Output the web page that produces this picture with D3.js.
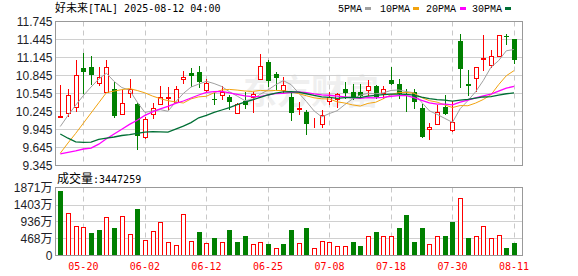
<!DOCTYPE html>
<html><head><meta charset="utf-8">
<script src="https://cdn.jsdelivr.net/npm/d3@7"></script>
<style>body{margin:0;background:#fff}svg{display:block}</style>
</head><body><svg id="c" width="578" height="276"></svg>
<script>
const titleName = "好未来";
const titleRest = "[TAL] 2025-08-12 04:00";
const volLabelName = "成交量";
const volLabelValue = ":3447259";
const dates = ["05-15","05-16","05-19","05-20","05-21","05-22","05-23","05-27","05-28","05-29",
"05-30","06-02","06-03","06-04","06-05","06-06","06-09","06-10","06-11","06-12",
"06-13","06-16","06-17","06-18","06-20","06-23","06-24","06-25","06-26","06-27",
"06-30","07-01","07-02","07-03","07-07","07-08","07-09","07-10","07-11","07-14",
"07-15","07-16","07-17","07-18","07-21","07-22","07-23","07-24","07-25","07-28",
"07-29","07-30","07-31","08-01","08-04","08-05","08-06","08-07","08-08","08-11"];
const openP = [10.155,10.217,10.328,10.973,10.995,10.728,10.573,10.623,10.206,10.556,
10.373,9.817,10.206,10.373,10.475,10.40,10.79,10.89,10.90,10.606,
10.445,10.528,10.495,10.223,10.412,10.484,10.79,11.067,10.862,10.595,
10.495,10.295,10.234,10.015,10.04,10.417,10.445,10.612,10.567,10.567,
10.595,10.678,10.55,10.778,10.695,10.54,10.578,10.306,9.956,10.04,
10.328,9.94,11.412,10.695,10.806,11.115,11.012,11.178,11.50,11.456];
const highP = [10.68,10.623,11.106,11.217,11.178,10.984,11.106,10.745,10.606,10.79,
10.384,10.15,10.384,10.662,10.65,10.662,10.912,10.973,11.01,10.79,
10.55,10.662,10.528,10.38,10.567,10.578,11.195,11.106,10.90,10.828,
10.578,10.40,10.262,10.14,10.262,10.567,10.55,10.745,10.695,10.706,
10.773,10.68,10.678,10.995,10.79,10.623,10.623,10.373,10.056,10.345,
10.512,10.417,11.54,10.939,10.984,11.528,11.262,11.512,11.54,11.456];
const lowP = [10.15,10.178,10.25,10.55,10.706,10.689,10.573,10.15,10.206,10.495,
9.623,9.806,10.14,10.373,10.29,10.40,10.717,10.667,10.65,10.567,
10.373,10.445,10.29,10.22,10.306,10.234,10.79,10.678,10.623,10.578,
10.106,10.195,9.873,9.995,9.984,10.373,10.317,10.473,10.456,10.473,
10.512,10.473,10.473,10.695,10.473,10.25,10.306,9.817,9.79,10.04,
10.195,9.928,10.65,10.528,10.584,10.939,10.995,11.178,11.362,11.05];
const closeP = [10.165,10.512,10.845,10.90,10.845,10.828,10.995,10.162,10.39,10.628,
9.84,10.123,10.306,10.484,10.49,10.623,10.828,10.834,10.734,10.723,
10.435,10.578,10.40,10.373,10.345,10.539,11.01,10.75,10.806,10.689,
10.217,10.305,10.04,10.025,10.19,10.495,10.539,10.55,10.495,10.50,
10.662,10.495,10.623,10.70,10.539,10.53,10.40,9.817,9.995,10.245,
10.195,10.067,10.956,10.662,10.984,11.13,11.178,11.512,11.48,11.095];
const ma5 = [9.995,10.18,10.35,10.51,10.653,10.786,10.883,10.746,10.644,10.601,
10.403,10.229,10.257,10.276,10.249,10.405,10.546,10.652,10.702,10.748,
10.711,10.661,10.574,10.502,10.426,10.447,10.533,10.603,10.69,10.759,
10.694,10.553,10.411,10.255,10.155,10.211,10.258,10.36,10.454,10.516,
10.549,10.54,10.555,10.596,10.604,10.577,10.558,10.397,10.256,10.197,
10.13,10.064,10.292,10.425,10.573,10.76,10.982,11.093,11.257,11.279];
const ma10 = [9.55,9.72,9.88,10.05,10.22,10.39,10.56,10.585,10.61,10.627,
10.595,10.556,10.502,10.46,10.425,10.404,10.387,10.455,10.489,10.499,
10.558,10.604,10.613,10.602,10.587,10.579,10.597,10.589,10.596,10.593,
10.571,10.543,10.507,10.473,10.457,10.453,10.406,10.386,10.355,10.336,
10.38,10.399,10.457,10.525,10.56,10.563,10.549,10.476,10.426,10.401,
10.354,10.311,10.344,10.341,10.385,10.445,10.523,10.692,10.841,10.926];
const ma20 = [9.54,9.565,9.59,9.62,9.635,9.70,9.79,9.87,9.95,10.03,
10.10,10.18,10.24,10.29,10.33,10.38,10.42,10.47,10.52,10.563,
10.576,10.58,10.557,10.531,10.506,10.492,10.492,10.522,10.542,10.546,
10.564,10.573,10.56,10.537,10.522,10.516,10.501,10.487,10.475,10.464,
10.475,10.471,10.482,10.499,10.508,10.508,10.478,10.431,10.39,10.368,
10.367,10.355,10.401,10.433,10.472,10.504,10.536,10.584,10.634,10.663];
const ma30 = [9.87,9.80,9.74,9.73,9.735,9.78,9.80,9.82,9.845,9.86,
9.88,9.90,9.91,9.905,9.90,9.95,10.00,10.06,10.14,10.18,
10.23,10.27,10.31,10.36,10.40,10.44,10.48,10.52,10.55,10.573,
10.574,10.568,10.541,10.512,10.49,10.479,10.463,10.476,10.48,10.476,
10.503,10.515,10.526,10.533,10.535,10.532,10.517,10.483,10.459,10.443,
10.435,10.418,10.436,10.446,10.467,10.487,10.493,10.518,10.541,10.554];
const volume = [1761,1174,816,789,624,715,1064,770,1091,596,
1293,440,679,926,376,293,1146,403,660,348,
468,385,715,358,523,321,376,330,211,330,
688,348,743,211,403,385,248,248,385,275,
523,660,523,550,770,1128,358,743,321,541,
550,908,1587,495,523,816,495,569,193,345];
const volUp = [0,1,1,1,0,0,1,0,1,1, 0,1,1,1,1,1,1,1,0,1,
0,1,0,0,0,1,1,0,1,0, 0,1,0,1,1,1,1,1,0,0,
1,0,1,1,0,0,0,0,1,1, 0,0,1,0,1,1,1,1,0,0];
const priceTicks = [9.345,9.645,9.945,10.245,10.545,10.845,11.145,11.445,11.745];
const volTicks = [0,468,936,1403,1871];
const dateLabels = ["05-20","06-02","06-12","06-25","07-08","07-18","07-30","08-11"];
const maNames = ["5PMA","10PMA","20PMA","30PMA"];
const maColors = ["#a0a0a0","#f2a30f","#ff00ff","#006f35"];

const UP = "#ff0000", DOWN = "#008000";
const L = 55.5, R = 522.5, PT = 21.5, PB = 165.5, VT = 187.5, VB = 255.5;
const svg = d3.select("#c");
const x = d3.scaleBand().domain(dates).range([56.45, 517.85]);
const bw = x.bandwidth();
const cxr = d => Math.round(x(d) + bw / 2);
const y = d3.scaleLinear().domain([9.345, 11.745]).range([PB, PT]);
const yv = d3.scaleLinear().domain([0, 1871]).range([VB, VT]);

// watermark
svg.append("text").attr("x", 243).attr("y", 104)
  .style("font-family", "'Noto Sans CJK SC'").style("font-size", "34px").style("font-weight", "bold")
  .attr("fill", "#000").attr("opacity", 0.06).text("东方财富");

// horizontal grid
svg.append("g").selectAll("line").data(priceTicks.slice(1, -1)).join("line")
  .attr("x1", L).attr("x2", R).attr("y1", d => y(d)).attr("y2", d => y(d))
  .attr("stroke", "#d0d0d0").attr("stroke-width", 1);
svg.append("g").selectAll("line").data(volTicks.slice(1, -1)).join("line")
  .attr("x1", L).attr("x2", R).attr("y1", d => Math.round(yv(d)) + 0.5).attr("y2", d => Math.round(yv(d)) + 0.5)
  .attr("stroke", "#d0d0d0").attr("stroke-width", 1);
// vertical dashed grid
[[PT, PB], [VT, VB]].forEach(([a, b]) => {
  svg.append("g").selectAll("line").data(dateLabels).join("line")
    .attr("x1", d => cxr(d) + 0.5).attr("x2", d => cxr(d) + 0.5)
    .attr("y1", a).attr("y2", b)
    .attr("stroke", "#c8c8c8").attr("stroke-dasharray", "5,4");
});

// candles
const bars = dates.map((d, i) => ({ d, o: openP[i], h: highP[i], l: lowP[i], c: closeP[i], v: volume[i], vu: volUp[i] }));
const cg = svg.append("g");
const cand = cg.selectAll("g").data(bars).join("g");
cand.append("line")
  .attr("x1", d => cxr(d.d) + 0.5).attr("x2", d => cxr(d.d) + 0.5)
  .attr("y1", d => Math.round(y(d.h))).attr("y2", d => Math.round(y(d.l)) + 1)
  .attr("stroke", d => d.c >= d.o ? UP : DOWN).attr("stroke-width", 1);
cand.each(function (d) {
  const g = d3.select(this);
  const t = Math.round(y(Math.max(d.o, d.c))), b = Math.round(y(Math.min(d.o, d.c)));
  const cx = cxr(d.d);
  if (d.c >= d.o) {
    g.append("rect").attr("x", cx - 1.5).attr("y", t + 0.5).attr("width", 4).attr("height", Math.max(b - t, 0))
      .attr("fill", "#fff").attr("stroke", UP).attr("stroke-width", 1);
  } else {
    g.append("rect").attr("x", cx - 2).attr("y", t).attr("width", 5).attr("height", Math.max(b - t, 1))
      .attr("fill", DOWN);
  }
});

// MA lines
[ma5, ma10, ma20, ma30].forEach((arr, k) => {
  const line = d3.line().x((v, i) => x(dates[i]) + bw / 2).y(v => y(v));
  svg.append("path").datum(arr).attr("d", line).attr("fill", "none")
    .attr("stroke", maColors[k]).attr("stroke-width", k >= 2 ? 1.3 : 1);
});

// volume bars
const vg = svg.append("g");
vg.selectAll("rect").data(bars).join("rect")
  .each(function (d) {
    const r = d3.select(this), cx = cxr(d.d), t = Math.round(yv(d.v));
    if (d.vu) {
      r.attr("x", cx - 1.5).attr("y", t + 0.5).attr("width", 4).attr("height", Math.max(255 - t, 0))
        .attr("fill", "#fff").attr("stroke", UP).attr("stroke-width", 1);
    } else {
      r.attr("x", cx - 2).attr("y", t).attr("width", 5).attr("height", Math.max(256 - t, 1)).attr("fill", DOWN);
    }
  });

// frames
svg.append("rect").attr("x", L).attr("y", PT).attr("width", R - L).attr("height", PB - PT)
  .attr("fill", "none").attr("stroke", "#999");
svg.append("rect").attr("x", L).attr("y", VT).attr("width", R - L).attr("height", VB - VT)
  .attr("fill", "none").attr("stroke", "#999");

// axes
const ya = svg.append("g").attr("transform", `translate(${L},0)`)
  .call(d3.axisLeft(y).tickValues(priceTicks).tickFormat(d3.format(".3f")).tickSize(0).tickPadding(3));
ya.select(".domain").remove();
const yva = svg.append("g").attr("transform", `translate(${L},0)`)
  .call(d3.axisLeft(yv).tickValues(volTicks).tickFormat(d => d === 0 ? "0" : d + "万").tickSize(0).tickPadding(3));
yva.select(".domain").remove();
[ya, yva].forEach(g => g.selectAll("text")
  .style("font-family", "'Liberation Sans','Noto Sans CJK SC',sans-serif").style("font-size", "12px").attr("fill", "#1e1e28"));
const xa = svg.append("g").attr("transform", `translate(0,${VB})`)
  .call(d3.axisBottom(x).tickValues(dateLabels).tickSize(0).tickPadding(7));
xa.select(".domain").remove();
xa.selectAll("text").style("font-family", "'DejaVu Sans Mono',monospace").style("font-size", "10px").attr("fill", "#ff0000");

// title
const tt = svg.append("text").attr("x", 55).attr("y", 12);
tt.append("tspan").style("font-family", "'Noto Sans CJK SC'").style("font-size", "11px").text(titleName);
tt.append("tspan").style("font-family", "'DejaVu Sans Mono',monospace").style("font-size", "10px").text(titleRest);
// legend
const legX = [338, 380, 426, 472], legSq = [365, 413, 460, 505];
maNames.forEach((n, k) => {
  svg.append("text").attr("x", legX[k]).attr("y", 12).style("font-family", "'Liberation Mono',monospace")
    .style("font-size", "10px").attr("fill", "#000").text(n);
  svg.append("rect").attr("x", legSq[k]).attr("y", 7).attr("width", 6).attr("height", 3).attr("fill", maColors[k]);
});
// volume label
const vt = svg.append("text").attr("x", 57).attr("y", 183);
vt.append("tspan").style("font-family", "'Noto Sans CJK SC'").style("font-size", "12px").text(volLabelName);
vt.append("tspan").style("font-family", "'DejaVu Sans Mono',monospace").style("font-size", "10px").text(volLabelValue);
</script></body></html>
